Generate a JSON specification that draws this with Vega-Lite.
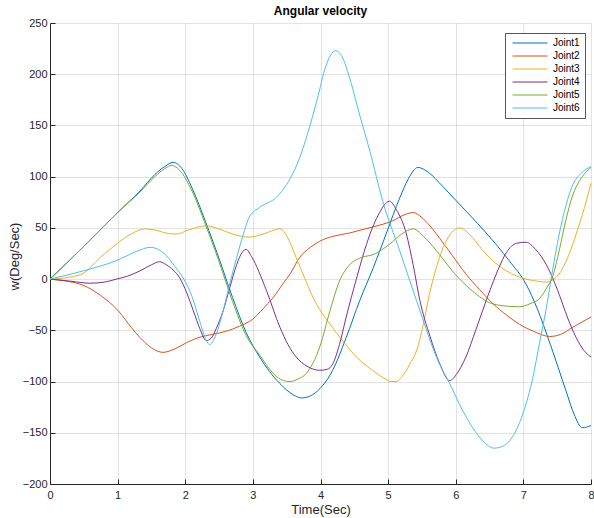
{
  "$schema": "https://vega.github.io/schema/vega-lite/v6.json",
  "width": 541,
  "height": 461,
  "autosize": {"type": "none"},
  "padding": {"left": 50, "top": 23, "right": 3, "bottom": 34},
  "background": "white",
  "config": {
    "view": {"stroke": null},
    "font": "Liberation Sans",
    "axis": {
      "domainColor": "#262626",
      "tickColor": "#262626",
      "labelColor": "#262626",
      "titleColor": "#262626",
      "gridColor": "#262626",
      "gridOpacity": 0.13,
      "labelFont": "Liberation Sans",
      "titleFont": "Liberation Sans",
      "labelFontSize": 11,
      "titleFontSize": 13,
      "titleFontWeight": "normal",
      "tickSize": -5
    }
  },
  "title": {
    "text": "Angular velocity",
    "font": "Liberation Sans",
    "fontSize": 12,
    "fontWeight": "bold",
    "color": "#000000",
    "frame": "group",
    "anchor": "middle",
    "baseline": "alphabetic",
    "offset": 7,
    "dy": 17
  },
  "datasets": {
    "joints": [
      {"t": 0, "v": 0, "joint": "Joint1"},
      {"t": 0.5, "v": 32, "joint": "Joint1"},
      {"t": 1.0, "v": 65, "joint": "Joint1"},
      {"t": 1.33, "v": 86, "joint": "Joint1"},
      {"t": 1.55, "v": 102, "joint": "Joint1"},
      {"t": 1.7, "v": 110, "joint": "Joint1"},
      {"t": 1.82, "v": 114, "joint": "Joint1"},
      {"t": 1.95, "v": 108, "joint": "Joint1"},
      {"t": 2.1, "v": 89, "joint": "Joint1"},
      {"t": 2.3, "v": 56, "joint": "Joint1"},
      {"t": 2.5, "v": 20, "joint": "Joint1"},
      {"t": 2.7, "v": -18, "joint": "Joint1"},
      {"t": 2.9, "v": -52, "joint": "Joint1"},
      {"t": 3.1, "v": -76, "joint": "Joint1"},
      {"t": 3.4, "v": -102, "joint": "Joint1"},
      {"t": 3.6, "v": -113, "joint": "Joint1"},
      {"t": 3.72, "v": -116, "joint": "Joint1"},
      {"t": 3.85, "v": -114, "joint": "Joint1"},
      {"t": 3.99, "v": -107, "joint": "Joint1"},
      {"t": 4.18, "v": -89, "joint": "Joint1"},
      {"t": 4.38, "v": -57, "joint": "Joint1"},
      {"t": 4.58, "v": -21, "joint": "Joint1"},
      {"t": 4.78, "v": 11, "joint": "Joint1"},
      {"t": 4.97, "v": 44, "joint": "Joint1"},
      {"t": 5.17, "v": 79, "joint": "Joint1"},
      {"t": 5.3, "v": 98, "joint": "Joint1"},
      {"t": 5.44, "v": 109, "joint": "Joint1"},
      {"t": 5.6, "v": 104, "joint": "Joint1"},
      {"t": 5.8, "v": 91, "joint": "Joint1"},
      {"t": 6.0, "v": 77, "joint": "Joint1"},
      {"t": 6.2, "v": 63, "joint": "Joint1"},
      {"t": 6.45, "v": 45, "joint": "Joint1"},
      {"t": 6.79, "v": 18, "joint": "Joint1"},
      {"t": 7.04, "v": -5, "joint": "Joint1"},
      {"t": 7.2, "v": -28, "joint": "Joint1"},
      {"t": 7.4, "v": -64, "joint": "Joint1"},
      {"t": 7.63, "v": -109, "joint": "Joint1"},
      {"t": 7.75, "v": -132, "joint": "Joint1"},
      {"t": 7.87, "v": -145, "joint": "Joint1"},
      {"t": 8, "v": -143, "joint": "Joint1"},

      {"t": 0, "v": 0, "joint": "Joint2"},
      {"t": 0.25, "v": -2, "joint": "Joint2"},
      {"t": 0.49, "v": -6, "joint": "Joint2"},
      {"t": 0.75, "v": -16, "joint": "Joint2"},
      {"t": 1.01, "v": -31, "joint": "Joint2"},
      {"t": 1.2, "v": -47, "joint": "Joint2"},
      {"t": 1.33, "v": -57, "joint": "Joint2"},
      {"t": 1.5, "v": -67, "joint": "Joint2"},
      {"t": 1.67, "v": -71.5, "joint": "Joint2"},
      {"t": 1.85, "v": -68, "joint": "Joint2"},
      {"t": 2.02, "v": -62, "joint": "Joint2"},
      {"t": 2.2, "v": -57, "joint": "Joint2"},
      {"t": 2.4, "v": -54, "joint": "Joint2"},
      {"t": 2.6, "v": -51, "joint": "Joint2"},
      {"t": 2.8, "v": -46, "joint": "Joint2"},
      {"t": 3.0, "v": -39, "joint": "Joint2"},
      {"t": 3.15, "v": -29, "joint": "Joint2"},
      {"t": 3.3, "v": -18, "joint": "Joint2"},
      {"t": 3.45, "v": -4, "joint": "Joint2"},
      {"t": 3.55, "v": 5, "joint": "Joint2"},
      {"t": 3.69, "v": 21, "joint": "Joint2"},
      {"t": 3.85, "v": 31, "joint": "Joint2"},
      {"t": 3.99, "v": 37, "joint": "Joint2"},
      {"t": 4.2, "v": 42, "joint": "Joint2"},
      {"t": 4.43, "v": 45, "joint": "Joint2"},
      {"t": 4.6, "v": 48, "joint": "Joint2"},
      {"t": 4.78, "v": 51, "joint": "Joint2"},
      {"t": 5.07, "v": 57, "joint": "Joint2"},
      {"t": 5.25, "v": 63, "joint": "Joint2"},
      {"t": 5.37, "v": 65, "joint": "Joint2"},
      {"t": 5.5, "v": 60, "joint": "Joint2"},
      {"t": 5.62, "v": 52, "joint": "Joint2"},
      {"t": 5.76, "v": 40, "joint": "Joint2"},
      {"t": 5.95, "v": 23, "joint": "Joint2"},
      {"t": 6.15, "v": 5, "joint": "Joint2"},
      {"t": 6.35, "v": -10, "joint": "Joint2"},
      {"t": 6.55, "v": -24, "joint": "Joint2"},
      {"t": 6.75, "v": -35, "joint": "Joint2"},
      {"t": 6.94, "v": -44, "joint": "Joint2"},
      {"t": 7.15, "v": -51, "joint": "Joint2"},
      {"t": 7.39, "v": -56, "joint": "Joint2"},
      {"t": 7.55, "v": -54, "joint": "Joint2"},
      {"t": 7.73, "v": -47, "joint": "Joint2"},
      {"t": 8, "v": -37, "joint": "Joint2"},

      {"t": 0, "v": 0, "joint": "Joint3"},
      {"t": 0.3, "v": 2, "joint": "Joint3"},
      {"t": 0.5, "v": 6, "joint": "Joint3"},
      {"t": 0.74, "v": 21, "joint": "Joint3"},
      {"t": 0.98, "v": 34, "joint": "Joint3"},
      {"t": 1.2, "v": 44, "joint": "Joint3"},
      {"t": 1.4, "v": 49, "joint": "Joint3"},
      {"t": 1.55, "v": 48, "joint": "Joint3"},
      {"t": 1.75, "v": 44.5, "joint": "Joint3"},
      {"t": 1.87, "v": 44, "joint": "Joint3"},
      {"t": 2.05, "v": 48, "joint": "Joint3"},
      {"t": 2.31, "v": 52, "joint": "Joint3"},
      {"t": 2.5, "v": 49, "joint": "Joint3"},
      {"t": 2.7, "v": 44, "joint": "Joint3"},
      {"t": 2.95, "v": 41, "joint": "Joint3"},
      {"t": 3.15, "v": 44, "joint": "Joint3"},
      {"t": 3.4, "v": 49, "joint": "Joint3"},
      {"t": 3.52, "v": 40, "joint": "Joint3"},
      {"t": 3.64, "v": 21, "joint": "Joint3"},
      {"t": 3.76, "v": 2, "joint": "Joint3"},
      {"t": 3.89, "v": -18, "joint": "Joint3"},
      {"t": 4.14, "v": -44, "joint": "Joint3"},
      {"t": 4.35, "v": -62, "joint": "Joint3"},
      {"t": 4.53, "v": -76, "joint": "Joint3"},
      {"t": 4.75, "v": -88, "joint": "Joint3"},
      {"t": 4.92, "v": -96, "joint": "Joint3"},
      {"t": 5.05, "v": -100, "joint": "Joint3"},
      {"t": 5.12, "v": -100, "joint": "Joint3"},
      {"t": 5.22, "v": -94, "joint": "Joint3"},
      {"t": 5.32, "v": -83, "joint": "Joint3"},
      {"t": 5.42, "v": -70, "joint": "Joint3"},
      {"t": 5.52, "v": -44, "joint": "Joint3"},
      {"t": 5.61, "v": -15, "joint": "Joint3"},
      {"t": 5.76, "v": 21, "joint": "Joint3"},
      {"t": 5.9, "v": 42, "joint": "Joint3"},
      {"t": 6.06, "v": 50, "joint": "Joint3"},
      {"t": 6.2, "v": 44, "joint": "Joint3"},
      {"t": 6.4, "v": 28, "joint": "Joint3"},
      {"t": 6.6, "v": 15, "joint": "Joint3"},
      {"t": 6.75, "v": 8, "joint": "Joint3"},
      {"t": 6.9, "v": 3, "joint": "Joint3"},
      {"t": 7.04, "v": 0, "joint": "Joint3"},
      {"t": 7.2, "v": -2, "joint": "Joint3"},
      {"t": 7.34, "v": -3, "joint": "Joint3"},
      {"t": 7.45, "v": 0, "joint": "Joint3"},
      {"t": 7.53, "v": 5, "joint": "Joint3"},
      {"t": 7.63, "v": 17, "joint": "Joint3"},
      {"t": 7.73, "v": 34, "joint": "Joint3"},
      {"t": 7.83, "v": 54, "joint": "Joint3"},
      {"t": 7.93, "v": 76, "joint": "Joint3"},
      {"t": 8, "v": 94, "joint": "Joint3"},

      {"t": 0, "v": 0, "joint": "Joint4"},
      {"t": 0.3, "v": -2, "joint": "Joint4"},
      {"t": 0.59, "v": -4, "joint": "Joint4"},
      {"t": 0.8, "v": -3, "joint": "Joint4"},
      {"t": 0.98, "v": 0, "joint": "Joint4"},
      {"t": 1.15, "v": 3, "joint": "Joint4"},
      {"t": 1.33, "v": 8, "joint": "Joint4"},
      {"t": 1.5, "v": 14, "joint": "Joint4"},
      {"t": 1.62, "v": 17, "joint": "Joint4"},
      {"t": 1.72, "v": 14, "joint": "Joint4"},
      {"t": 1.82, "v": 9, "joint": "Joint4"},
      {"t": 1.92, "v": 1, "joint": "Joint4"},
      {"t": 2.02, "v": -13, "joint": "Joint4"},
      {"t": 2.12, "v": -31, "joint": "Joint4"},
      {"t": 2.22, "v": -49, "joint": "Joint4"},
      {"t": 2.31, "v": -60, "joint": "Joint4"},
      {"t": 2.38, "v": -58, "joint": "Joint4"},
      {"t": 2.46, "v": -48, "joint": "Joint4"},
      {"t": 2.56, "v": -31, "joint": "Joint4"},
      {"t": 2.66, "v": -8, "joint": "Joint4"},
      {"t": 2.76, "v": 14, "joint": "Joint4"},
      {"t": 2.84, "v": 26, "joint": "Joint4"},
      {"t": 2.9, "v": 29, "joint": "Joint4"},
      {"t": 2.98, "v": 22, "joint": "Joint4"},
      {"t": 3.2, "v": -11, "joint": "Joint4"},
      {"t": 3.4, "v": -47, "joint": "Joint4"},
      {"t": 3.52, "v": -64, "joint": "Joint4"},
      {"t": 3.64, "v": -76, "joint": "Joint4"},
      {"t": 3.8, "v": -85, "joint": "Joint4"},
      {"t": 3.99, "v": -89, "joint": "Joint4"},
      {"t": 4.1, "v": -88, "joint": "Joint4"},
      {"t": 4.18, "v": -83, "joint": "Joint4"},
      {"t": 4.28, "v": -64, "joint": "Joint4"},
      {"t": 4.38, "v": -37, "joint": "Joint4"},
      {"t": 4.53, "v": 0, "joint": "Joint4"},
      {"t": 4.68, "v": 34, "joint": "Joint4"},
      {"t": 4.85, "v": 62, "joint": "Joint4"},
      {"t": 5.02, "v": 76, "joint": "Joint4"},
      {"t": 5.12, "v": 68, "joint": "Joint4"},
      {"t": 5.27, "v": 44, "joint": "Joint4"},
      {"t": 5.37, "v": 14, "joint": "Joint4"},
      {"t": 5.47, "v": -21, "joint": "Joint4"},
      {"t": 5.62, "v": -56, "joint": "Joint4"},
      {"t": 5.76, "v": -82, "joint": "Joint4"},
      {"t": 5.91, "v": -99, "joint": "Joint4"},
      {"t": 6.02, "v": -92, "joint": "Joint4"},
      {"t": 6.15, "v": -76, "joint": "Joint4"},
      {"t": 6.3, "v": -49, "joint": "Joint4"},
      {"t": 6.45, "v": -21, "joint": "Joint4"},
      {"t": 6.6, "v": 5, "joint": "Joint4"},
      {"t": 6.75, "v": 26, "joint": "Joint4"},
      {"t": 6.9, "v": 35, "joint": "Joint4"},
      {"t": 7.04, "v": 36, "joint": "Joint4"},
      {"t": 7.18, "v": 29, "joint": "Joint4"},
      {"t": 7.34, "v": 14, "joint": "Joint4"},
      {"t": 7.53, "v": -15, "joint": "Joint4"},
      {"t": 7.65, "v": -37, "joint": "Joint4"},
      {"t": 7.78, "v": -57, "joint": "Joint4"},
      {"t": 7.9, "v": -70, "joint": "Joint4"},
      {"t": 8, "v": -76, "joint": "Joint4"},

      {"t": 0, "v": 0, "joint": "Joint5"},
      {"t": 0.5, "v": 32, "joint": "Joint5"},
      {"t": 1.0, "v": 65, "joint": "Joint5"},
      {"t": 1.33, "v": 85, "joint": "Joint5"},
      {"t": 1.55, "v": 100, "joint": "Joint5"},
      {"t": 1.7, "v": 108, "joint": "Joint5"},
      {"t": 1.8, "v": 111, "joint": "Joint5"},
      {"t": 1.92, "v": 106, "joint": "Joint5"},
      {"t": 2.1, "v": 86, "joint": "Joint5"},
      {"t": 2.3, "v": 53, "joint": "Joint5"},
      {"t": 2.5, "v": 17, "joint": "Joint5"},
      {"t": 2.7, "v": -22, "joint": "Joint5"},
      {"t": 2.9, "v": -55, "joint": "Joint5"},
      {"t": 3.1, "v": -74, "joint": "Joint5"},
      {"t": 3.3, "v": -92, "joint": "Joint5"},
      {"t": 3.45, "v": -99, "joint": "Joint5"},
      {"t": 3.55, "v": -100, "joint": "Joint5"},
      {"t": 3.65, "v": -98, "joint": "Joint5"},
      {"t": 3.79, "v": -92, "joint": "Joint5"},
      {"t": 3.99, "v": -66, "joint": "Joint5"},
      {"t": 4.14, "v": -31, "joint": "Joint5"},
      {"t": 4.28, "v": -2, "joint": "Joint5"},
      {"t": 4.43, "v": 14, "joint": "Joint5"},
      {"t": 4.6, "v": 21, "joint": "Joint5"},
      {"t": 4.78, "v": 24, "joint": "Joint5"},
      {"t": 5.02, "v": 34, "joint": "Joint5"},
      {"t": 5.2, "v": 44, "joint": "Joint5"},
      {"t": 5.37, "v": 49, "joint": "Joint5"},
      {"t": 5.55, "v": 40, "joint": "Joint5"},
      {"t": 5.76, "v": 24, "joint": "Joint5"},
      {"t": 5.95, "v": 8, "joint": "Joint5"},
      {"t": 6.15, "v": -6, "joint": "Joint5"},
      {"t": 6.35, "v": -17, "joint": "Joint5"},
      {"t": 6.5, "v": -23, "joint": "Joint5"},
      {"t": 6.7, "v": -26, "joint": "Joint5"},
      {"t": 6.94, "v": -27, "joint": "Joint5"},
      {"t": 7.1, "v": -24, "joint": "Joint5"},
      {"t": 7.24, "v": -19, "joint": "Joint5"},
      {"t": 7.35, "v": -8, "joint": "Joint5"},
      {"t": 7.43, "v": 2, "joint": "Joint5"},
      {"t": 7.53, "v": 28, "joint": "Joint5"},
      {"t": 7.63, "v": 58, "joint": "Joint5"},
      {"t": 7.73, "v": 82, "joint": "Joint5"},
      {"t": 7.83, "v": 96, "joint": "Joint5"},
      {"t": 7.92, "v": 104, "joint": "Joint5"},
      {"t": 8, "v": 109, "joint": "Joint5"},

      {"t": 0, "v": 0, "joint": "Joint6"},
      {"t": 0.49, "v": 8, "joint": "Joint6"},
      {"t": 0.98, "v": 18, "joint": "Joint6"},
      {"t": 1.28, "v": 27, "joint": "Joint6"},
      {"t": 1.48, "v": 31, "joint": "Joint6"},
      {"t": 1.6, "v": 29, "joint": "Joint6"},
      {"t": 1.72, "v": 23, "joint": "Joint6"},
      {"t": 1.85, "v": 12, "joint": "Joint6"},
      {"t": 1.97, "v": 1, "joint": "Joint6"},
      {"t": 2.1, "v": -17, "joint": "Joint6"},
      {"t": 2.2, "v": -38, "joint": "Joint6"},
      {"t": 2.3, "v": -58, "joint": "Joint6"},
      {"t": 2.36, "v": -64, "joint": "Joint6"},
      {"t": 2.43, "v": -58, "joint": "Joint6"},
      {"t": 2.56, "v": -31, "joint": "Joint6"},
      {"t": 2.66, "v": -4, "joint": "Joint6"},
      {"t": 2.76, "v": 21, "joint": "Joint6"},
      {"t": 2.86, "v": 44, "joint": "Joint6"},
      {"t": 2.95, "v": 61, "joint": "Joint6"},
      {"t": 3.1, "v": 70, "joint": "Joint6"},
      {"t": 3.35, "v": 80, "joint": "Joint6"},
      {"t": 3.55, "v": 98, "joint": "Joint6"},
      {"t": 3.69, "v": 118, "joint": "Joint6"},
      {"t": 3.8, "v": 140, "joint": "Joint6"},
      {"t": 3.95, "v": 175, "joint": "Joint6"},
      {"t": 4.08, "v": 208, "joint": "Joint6"},
      {"t": 4.22, "v": 223, "joint": "Joint6"},
      {"t": 4.32, "v": 217, "joint": "Joint6"},
      {"t": 4.45, "v": 192, "joint": "Joint6"},
      {"t": 4.58, "v": 160, "joint": "Joint6"},
      {"t": 4.73, "v": 125, "joint": "Joint6"},
      {"t": 4.92, "v": 76, "joint": "Joint6"},
      {"t": 5.17, "v": 28, "joint": "Joint6"},
      {"t": 5.42, "v": -21, "joint": "Joint6"},
      {"t": 5.76, "v": -83, "joint": "Joint6"},
      {"t": 5.91, "v": -102, "joint": "Joint6"},
      {"t": 6.1, "v": -128, "joint": "Joint6"},
      {"t": 6.25, "v": -145, "joint": "Joint6"},
      {"t": 6.4, "v": -158, "joint": "Joint6"},
      {"t": 6.57, "v": -165, "joint": "Joint6"},
      {"t": 6.7, "v": -163, "joint": "Joint6"},
      {"t": 6.89, "v": -148, "joint": "Joint6"},
      {"t": 7.0, "v": -130, "joint": "Joint6"},
      {"t": 7.14, "v": -96, "joint": "Joint6"},
      {"t": 7.24, "v": -62, "joint": "Joint6"},
      {"t": 7.34, "v": -28, "joint": "Joint6"},
      {"t": 7.43, "v": 8, "joint": "Joint6"},
      {"t": 7.53, "v": 44, "joint": "Joint6"},
      {"t": 7.63, "v": 72, "joint": "Joint6"},
      {"t": 7.73, "v": 92, "joint": "Joint6"},
      {"t": 7.85, "v": 103, "joint": "Joint6"},
      {"t": 8, "v": 110, "joint": "Joint6"}
    ]
  },
  "data": {"name": "joints"},
  "mark": {"type": "line", "interpolate": "monotone", "strokeWidth": 1, "clip": true},
  "encoding": {
    "x": {
      "field": "t",
      "type": "quantitative",
      "scale": {"domain": [0, 8], "nice": false, "zero": false},
      "axis": {
        "title": "Time(Sec)",
        "values": [0, 1, 2, 3, 4, 5, 6, 7, 8],
        "labelPadding": 10,
        "labelFlush": false,
        "titleY": 29,
        "titleBaseline": "alphabetic"
      }
    },
    "y": {
      "field": "v",
      "type": "quantitative",
      "scale": {"domain": [-200, 250], "nice": false, "zero": false},
      "axis": {
        "title": "w(Deg/Sec)",
        "values": [-200, -150, -100, -50, 0, 50, 100, 150, 200, 250],
        "labelPadding": 8,
        "labelFlush": false,
        "titleX": -31.5,
        "titleY": 233,
        "titleAngle": -90,
        "titleBaseline": "alphabetic",
        "titleAlign": "center"
      }
    },
    "color": {
      "field": "joint",
      "type": "nominal",
      "scale": {
        "domain": ["Joint1", "Joint2", "Joint3", "Joint4", "Joint5", "Joint6"],
        "range": ["#0072BD", "#D95319", "#EDB120", "#7E2F8E", "#77AC30", "#4DBEEE"]
      },
      "legend": {
        "title": null,
        "orient": "none",
        "legendX": 455,
        "legendY": 10,
        "padding": 5,
        "fillColor": "white",
        "strokeColor": "#555555",
        "symbolType": "stroke",
        "symbolSize": 1225,
        "symbolStrokeWidth": 1,
        "symbolOffset": 2,
        "clipHeight": 10,
        "rowPadding": 3,
        "labelOffset": 5,
        "labelFont": "Liberation Sans",
        "labelFontSize": 10,
        "labelColor": "#000000"
      }
    }
  }
}
